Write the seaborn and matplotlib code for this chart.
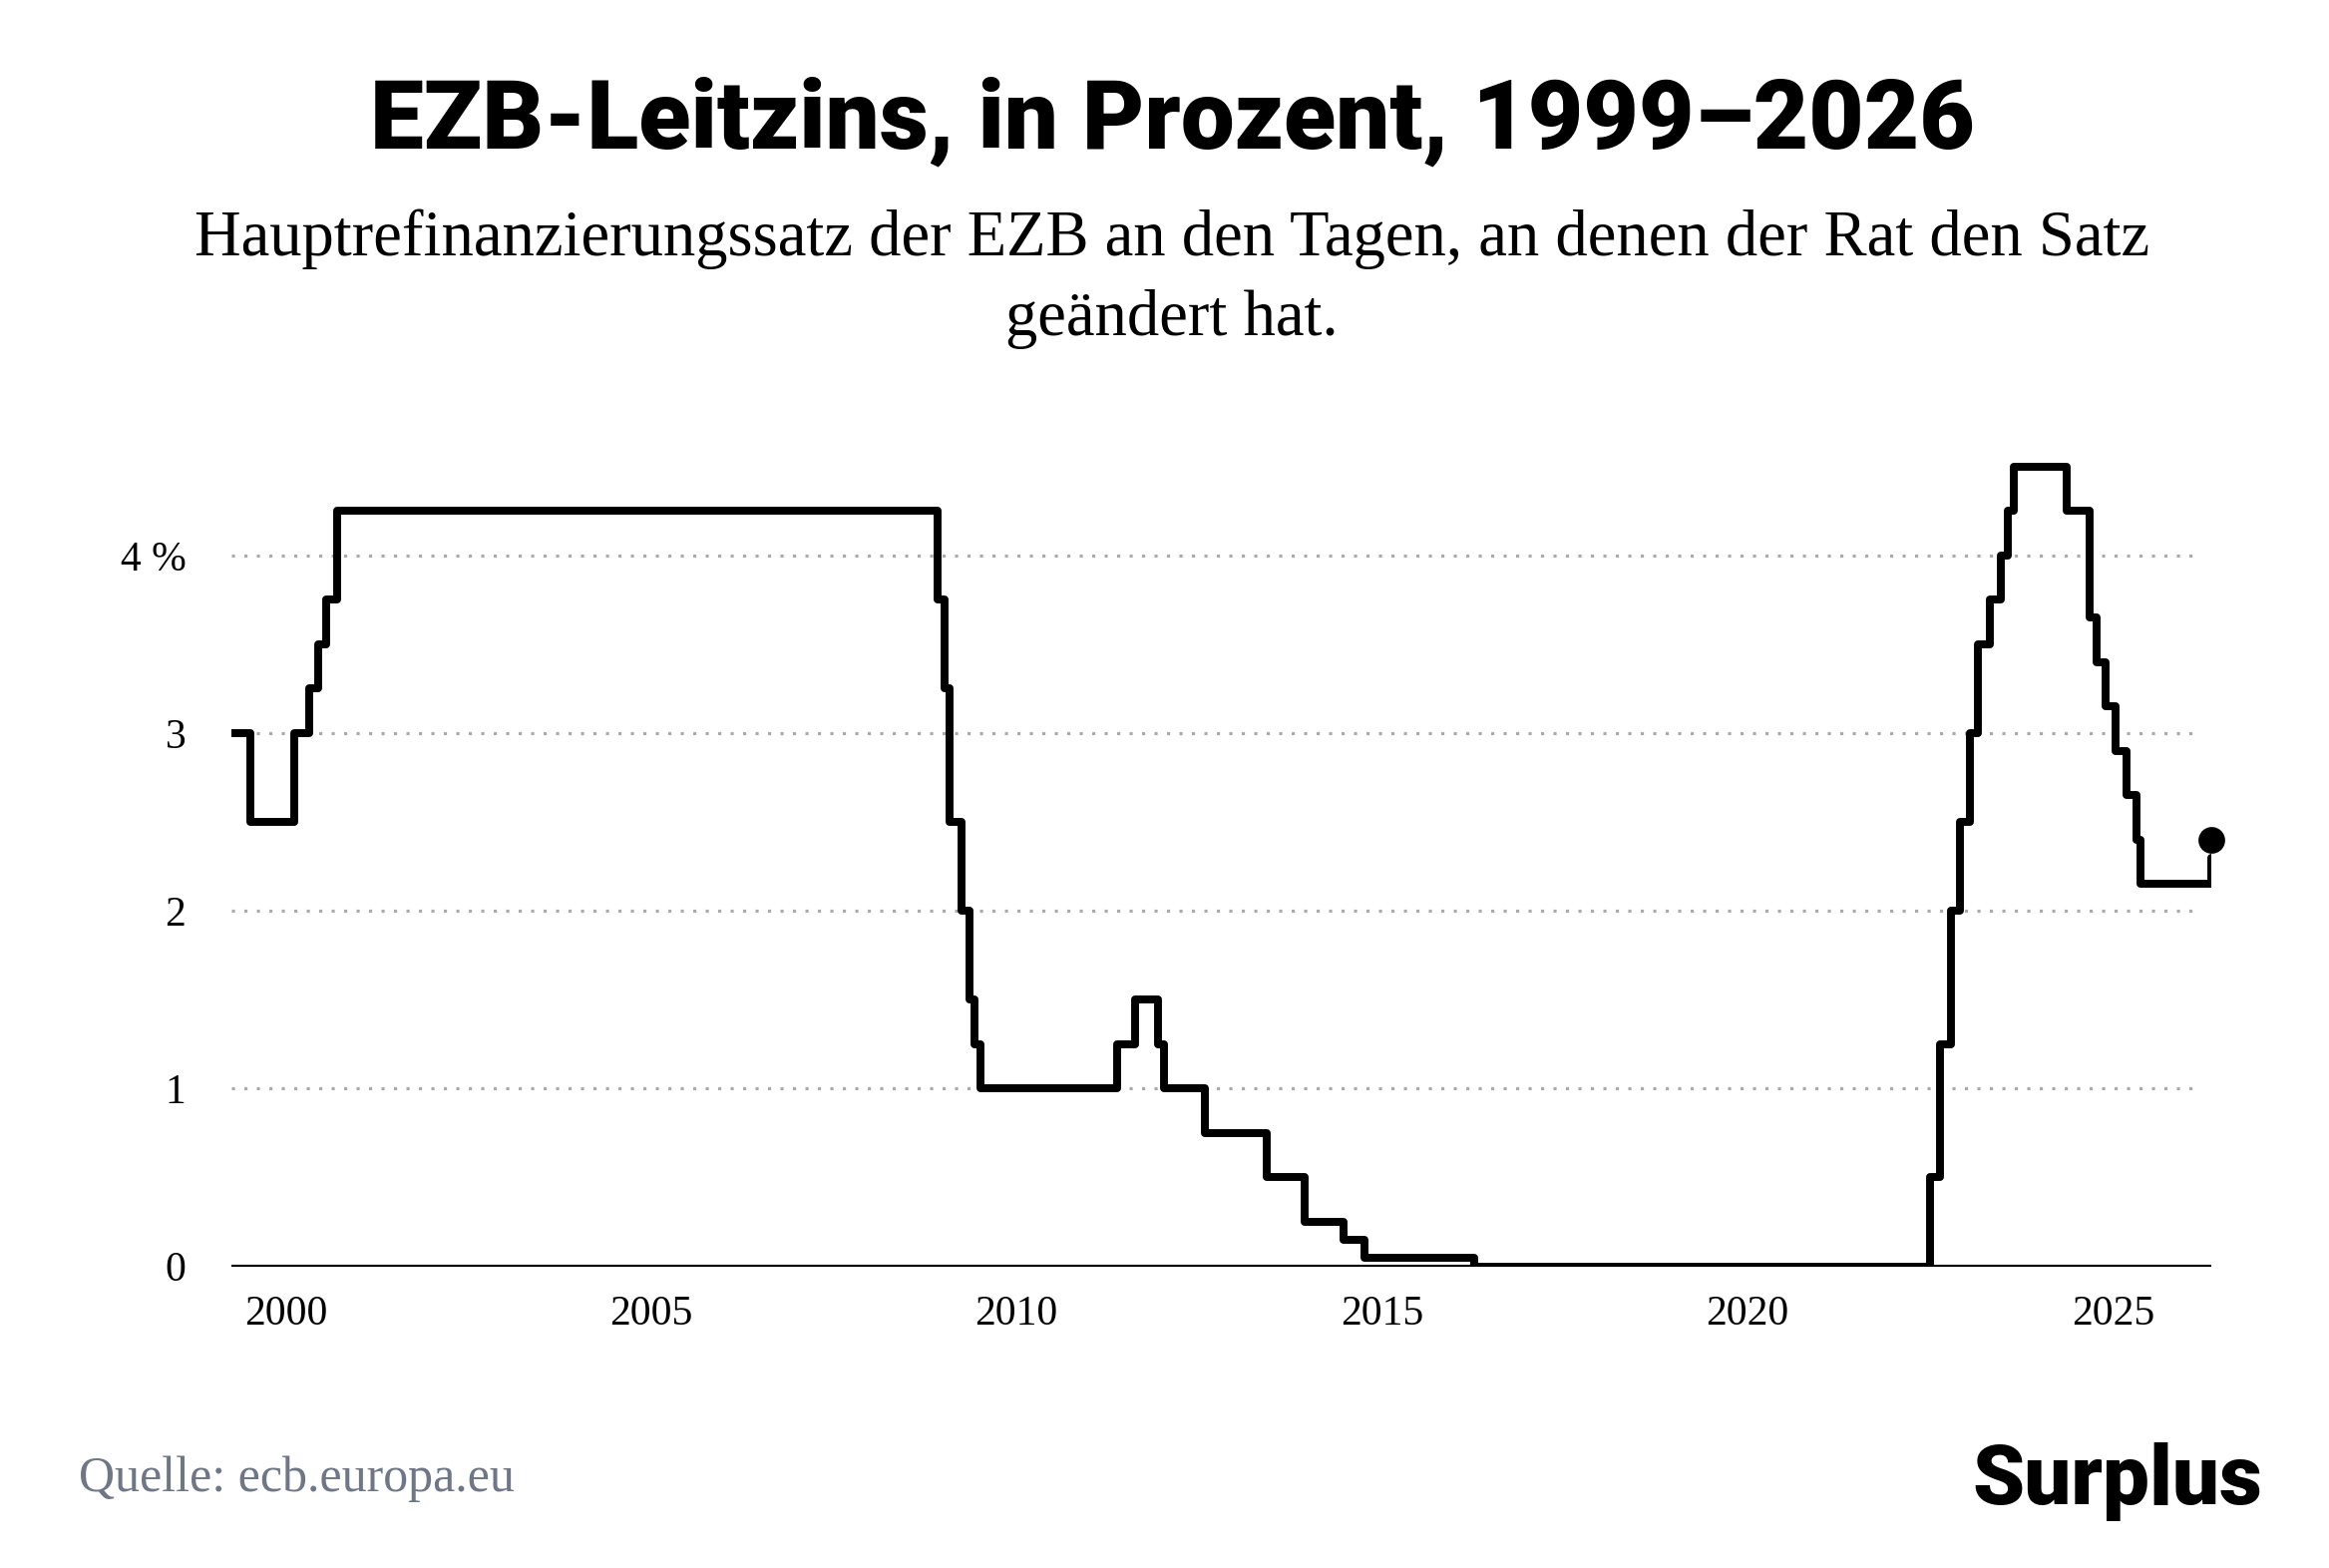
import matplotlib
matplotlib.use("Agg")
import matplotlib.pyplot as plt
import seaborn as sns
import pandas as pd

# Zeitpunkte der Zinsänderungen (Dezimaljahre) und Hauptrefinanzierungssatz in %
jahre = [1999.26, 1999.52, 2000.12, 2000.32, 2000.44, 2000.56, 2000.71,
         2008.92, 2009.02, 2009.08, 2009.24, 2009.35, 2009.43, 2009.50,
         2011.38, 2011.62, 2011.93, 2012.02, 2012.58, 2013.42, 2013.94,
         2014.47, 2014.76, 2016.26, 2022.50, 2022.64, 2022.78, 2022.90,
         2023.05, 2023.15, 2023.32, 2023.46, 2023.56, 2023.64, 2024.37,
         2024.68, 2024.78, 2024.90, 2025.04, 2025.18, 2025.32, 2025.38,
         2026.34]
satz = [3.0, 2.5, 3.0, 3.25, 3.5, 3.75, 4.25,
        3.75, 3.25, 2.5, 2.0, 1.5, 1.25, 1.0,
        1.25, 1.5, 1.25, 1.0, 0.75, 0.5, 0.25,
        0.15, 0.05, 0.0, 0.5, 1.25, 2.0, 2.5,
        3.0, 3.5, 3.75, 4.0, 4.25, 4.5, 4.25,
        3.65, 3.4, 3.15, 2.9, 2.65, 2.4, 2.15,
        2.3]
letzter_jahr = 2026.34
letzter_satz = 2.4

y_ticks = [0, 1, 2, 3, 4]
y_labels = ["0", "1", "2", "3", "4 %"]
x_ticks = [2000, 2005, 2010, 2015, 2020, 2025]

df = pd.DataFrame({"jahr": jahre, "satz": satz})

sns.set_style("white")
fig = plt.figure(figsize=(15.573, 10.48), dpi=150)
ax = fig.add_axes([0.0994, 0.1924, 0.8495, 0.5327])

sns.lineplot(data=df, x="jahr", y="satz", drawstyle="steps-post",
             color="black", linewidth=3.8, ax=ax, zorder=3)
ax.scatter([letzter_jahr], [letzter_satz], s=140, color="black", zorder=4, clip_on=False)

ax.set_xlim(1999.26, 2026.34)
ax.set_ylim(0, 4.7)
ax.set_yticks(y_ticks)
ax.set_yticklabels(y_labels)
ax.set_xticks(x_ticks)
for y in y_ticks[1:]:
    ax.axhline(y, xmin=0, xmax=0.995, color="#aaaaaa", linestyle=(0, (1, 3)), linewidth=1.5, zorder=1)
ax.axhline(0, color="black", linewidth=2, zorder=2)
for s in ax.spines.values():
    s.set_visible(False)
ax.set_xlabel("")
ax.set_ylabel("")
ax.tick_params(length=0, labelsize=20, pad=14)
for lab in ax.get_xticklabels() + ax.get_yticklabels():
    lab.set_fontfamily("Liberation Serif")
    lab.set_color("black")
ax.tick_params(axis="y", pad=22)

fig.text(0.503, 0.922, "EZB-Leitzins, in Prozent, 1999–2026", ha="center", va="center",
         fontsize=46, fontweight="heavy", family="Roboto", color="black")
fig.text(0.503, 0.822, "Hauptrefinanzierungssatz der EZB an den Tagen, an denen der Rat den Satz\ngeändert hat.",
         ha="center", va="center", fontsize=31, family="Liberation Serif", linespacing=1.45,
         color="black")
fig.text(0.034, 0.057, "Quelle: ecb.europa.eu", ha="left", va="center",
         fontsize=24, family="Liberation Serif", color="#6f7787")
fig.text(0.971, 0.055, "Surplus", ha="right", va="center",
         fontsize=40, fontweight="heavy", family="Roboto", color="black")

fig.savefig("out.png", dpi=150)
